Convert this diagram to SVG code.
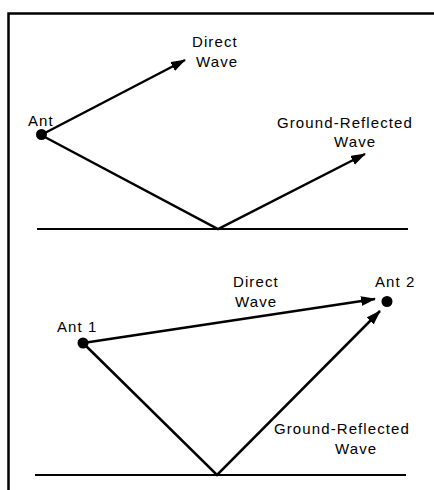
<svg xmlns="http://www.w3.org/2000/svg" width="434" height="490" viewBox="0 0 434 490">
<style>
text{font-family:"Liberation Sans",Arial,sans-serif;font-size:15px;letter-spacing:1.1px;fill:#000}
.ln{stroke:#000;stroke-width:2.5;fill:none}
.gnd{stroke:#000;stroke-width:2.2;fill:none}
.arr{marker-end:url(#ah)}
</style>
<defs>
<marker id="ah" markerUnits="userSpaceOnUse" markerWidth="16" markerHeight="12" refX="14" refY="5" orient="auto">
<path d="M0,0 L15,5 L0,10 Z" fill="#000"/>
</marker>
</defs>
<rect width="434" height="490" fill="#fff"/>
<path d="M8.5,490 V13.5 H434" class="ln" stroke-width="2.8"/>
<g id="connectors">
<line x1="37" y1="229" x2="408" y2="229" class="gnd"/>
<line x1="41" y1="135" x2="185" y2="60" class="ln arr"/>
<polyline points="41,135 218,229 365,154" class="ln arr"/>
<line x1="35" y1="475" x2="406" y2="475" class="gnd"/>
<line x1="83" y1="343" x2="375" y2="299" class="ln arr"/>
<polyline points="83,343 217,475 380,311" class="ln arr"/>
</g>
<g id="ant">
<circle cx="41.5" cy="134.5" r="5.5"/>
<text x="28" y="126">Ant</text>
</g>
<g id="ant1">
<circle cx="83" cy="343" r="5.5"/>
<text x="57" y="332">Ant 1</text>
</g>
<g id="ant2">
<circle cx="387" cy="301.5" r="5.5"/>
<text x="375" y="287">Ant 2</text>
</g>
<g id="labels">
<text x="192" y="47">Direct</text>
<text x="196" y="67">Wave</text>
<text x="277" y="128">Ground-Reflected</text>
<text x="334" y="147">Wave</text>
<text x="233" y="287">Direct</text>
<text x="235" y="307">Wave</text>
<text x="274" y="434">Ground-Reflected</text>
<text x="335" y="454">Wave</text>
</g>
</svg>
